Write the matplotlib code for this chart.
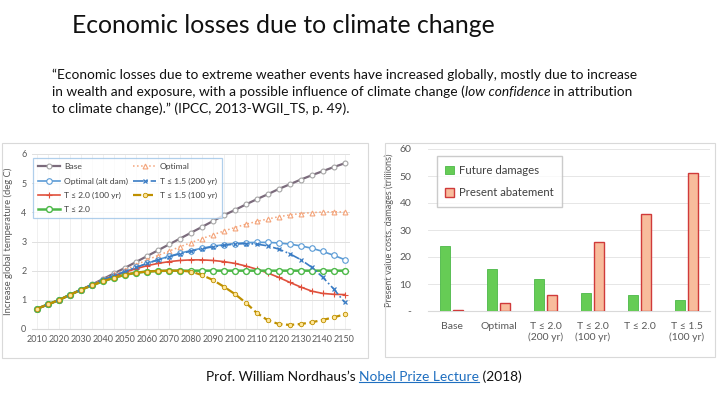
import numpy as np
import matplotlib.pyplot as plt
from matplotlib.patches import Rectangle
from matplotlib.lines import Line2D

plt.rcParams['font.family'] = ['Lato', 'DejaVu Sans']

# left chart: temperature paths, every 5 years
years = list(range(2010, 2151, 5))
base = [0.7, 0.85, 1.0, 1.18, 1.35, 1.53, 1.72, 1.91, 2.1, 2.3, 2.5, 2.7, 2.9, 3.1, 3.3,
        3.5, 3.7, 3.9, 4.08, 4.27, 4.45, 4.62, 4.8, 4.96, 5.12, 5.27, 5.41, 5.55, 5.68]
optimal = [0.7, 0.85, 1.0, 1.18, 1.35, 1.52, 1.7, 1.87, 2.03, 2.2, 2.37, 2.52, 2.67, 2.82, 2.96,
           3.1, 3.23, 3.36, 3.48, 3.59, 3.69, 3.77, 3.85, 3.91, 3.96, 3.99, 4.01, 4.02, 4.01]
opt_alt = [0.7, 0.85, 1.0, 1.18, 1.35, 1.52, 1.68, 1.83, 1.97, 2.11, 2.25, 2.38, 2.49, 2.6, 2.69,
           2.77, 2.84, 2.89, 2.93, 2.96, 2.97, 2.97, 2.95, 2.91, 2.85, 2.77, 2.66, 2.53, 2.38]
t15_200 = [0.7, 0.85, 1.0, 1.18, 1.35, 1.52, 1.68, 1.83, 1.97, 2.11, 2.25, 2.37, 2.48, 2.58, 2.67,
           2.75, 2.82, 2.87, 2.91, 2.93, 2.91, 2.85, 2.74, 2.58, 2.38, 2.12, 1.78, 1.38, 0.92]
t20_100 = [0.7, 0.85, 1.0, 1.18, 1.35, 1.52, 1.67, 1.81, 1.95, 2.07, 2.17, 2.25, 2.31, 2.35, 2.37,
           2.37, 2.35, 2.31, 2.25, 2.16, 2.05, 1.92, 1.77, 1.6, 1.44, 1.3, 1.22, 1.19, 1.18]
t20 = [0.7, 0.85, 1.0, 1.18, 1.35, 1.5, 1.64, 1.76, 1.86, 1.93, 1.97, 1.99, 2.0, 2.0, 2.0,
       2.0, 2.0, 2.0, 2.0, 2.0, 2.0, 2.0, 2.0, 2.0, 2.0, 2.0, 2.0, 2.0, 2.0]
t15_100 = [0.7, 0.85, 1.0, 1.18, 1.35, 1.5, 1.64, 1.76, 1.86, 1.93, 1.97, 1.99, 2.0, 2.0, 1.97,
           1.85, 1.68, 1.45, 1.2, 0.9, 0.55, 0.3, 0.17, 0.14, 0.17, 0.23, 0.31, 0.4, 0.5]

# right chart: present value costs
cats = ['Base', 'Optimal', 'T ≤ 2.0\n(200 yr)', 'T ≤ 2.0\n(100 yr)', 'T ≤ 2.0', 'T ≤ 1.5\n(100 yr)']
damages = [24, 15.5, 12, 6.5, 6, 4]
abatement = [0.3, 3, 6, 25.5, 36, 51]

fig = plt.figure(figsize=(7.2, 3.94), dpi=100)
W, H = 720.0, 394.0

def fx(px):
    return px / W

def fy(py):
    return 1 - py / H

# title and quote
fig.text(fx(72), fy(33), 'Economic losses due to climate change', fontsize=17.8,
         va='baseline', ha='left', color='#111111')

qsize = 9.95
fig.text(fx(52), fy(79), '\u201cEconomic losses due to extreme weather events have increased globally, mostly due to increase',
         fontsize=qsize, va='baseline', color='#111111')
t1 = fig.text(fx(52), fy(96), 'in wealth and exposure, with a possible influence of climate change (',
              fontsize=qsize, va='baseline', color='#111111')
fig.text(fx(52), fy(113), 'to climate change).\u201d (IPCC, 2013-WGII_TS, p. 49).',
         fontsize=qsize, va='baseline', color='#111111')

# caption
c1 = fig.text(fx(206), fy(377), 'Prof. William Nordhaus\u2019s ', fontsize=9.9, va='center', color='#111111')

# chart frames
for x0, y0, x1, y1 in [(2, 143, 368, 358), (385, 143, 715, 357)]:
    fig.patches.append(Rectangle((fx(x0), fy(y1)), fx(x1 - x0), (y1 - y0) / H,
                                 transform=fig.transFigure, fill=False,
                                 edgecolor='#d9d9d9', lw=0.8))

# ---- left chart
ax = fig.add_axes([fx(32), fy(329), fx(318), 175 / H])
tick_col = '#595959'
ax.plot(years, base, color='#7b6b7c', lw=1.6, marker='o', ms=3.5, mfc='white', mec='#a5a5a5', mew=0.8, label='Base', zorder=3)
ax.plot(years, optimal, color='#f4a47a', lw=1.1, ls=':', marker='^', ms=3.5, mfc='white', mec='#f4a47a', mew=0.8, label='Optimal', zorder=3)
ax.plot(years, opt_alt, color='#5b9bd5', lw=1.2, marker='o', ms=4, mfc='white', mec='#5b9bd5', mew=0.8, label='Optimal (alt dam)', zorder=3)
ax.plot(years, t15_200, color='#3a7cc4', lw=1.2, ls='-.', marker='x', ms=3.5, mec='#3a7cc4', mew=0.9, label='T \u2264 1.5 (200 yr)', zorder=4)
ax.plot(years, t20_100, color='#e0503c', lw=1.2, marker='+', ms=4, mec='#e0503c', mew=0.8, label='T \u2264 2.0 (100 yr)', zorder=3)
ax.plot(years, t15_100, color='#bf9000', lw=1.6, ls='--', marker='o', ms=3.2, mfc='#ffe699', mec='#bf9000', mew=0.6, label='T \u2264 1.5 (100 yr)', zorder=4)
ax.plot(years, t20, color='#4cb848', lw=1.8, marker='o', ms=4.2, mfc='white', mec='#4cb848', mew=1.0, label='T \u2264 2.0', zorder=3)

ax.set_xlim(2007.5, 2152.5)
ax.set_ylim(0, 6)
ax.set_xticks(range(2010, 2151, 10))
ax.set_xticks(range(2010, 2151, 5), minor=True)
ax.set_yticks(range(0, 7))
ax.grid(True, which='both', axis='x', color='#eeeeee', lw=0.6)
ax.grid(True, which='major', axis='y', color='#e0e0e0', lw=0.7)
ax.set_axisbelow(True)
for s in ax.spines.values():
    s.set_visible(False)
ax.spines['bottom'].set_visible(True)
ax.spines['bottom'].set_color('#d9d9d9')
ax.tick_params(which='both', length=0, labelsize=6.5, colors=tick_col, pad=4)
ax.set_ylabel('Increase global temperature (deg C)', fontsize=6.8, color=tick_col, labelpad=6)

h, l = ax.get_legend_handles_labels()
order = [0, 2, 4, 6, 1, 3, 5]
leg = ax.legend([h[i] for i in order], [l[i] for i in order], ncol=2, loc='upper left',
                bbox_to_anchor=(-0.01, 1.0), fontsize=6.1, frameon=True, fancybox=False,
                edgecolor='#9dc3e6', handlelength=2.6, handletextpad=0.5, columnspacing=0.6,
                labelspacing=0.85, borderpad=0.6)
leg.get_frame().set_linewidth(0.9)
for t in leg.get_texts():
    t.set_color('#404040')

# ---- right chart
ax2 = fig.add_axes([fx(428), fy(311), fx(282), 162 / H])
x = np.arange(len(cats))
bw = 0.22
ax2.bar(x - 0.14, damages, bw, color='#66cc55', edgecolor='#4cb848', lw=0.6, label='Future damages', zorder=3)
ax2.bar(x + 0.14, abatement, bw, color='#f8bc9c', edgecolor='#d03a3a', lw=1.0, label='Present abatement', zorder=3)
ax2.set_xlim(-0.5, len(cats) - 0.5)
ax2.set_ylim(0, 60)
ax2.set_yticks(range(0, 61, 10))
ax2.set_yticklabels(['-'] + [str(v) for v in range(10, 61, 10)])
ax2.set_xticks(x)
ax2.set_xticklabels(cats)
ax2.grid(True, axis='y', color='#e6e6e6', lw=0.7)
ax2.set_axisbelow(True)
for s in ax2.spines.values():
    s.set_visible(False)
ax2.spines['bottom'].set_visible(True)
ax2.spines['bottom'].set_color('#d9d9d9')
ax2.tick_params(length=0, labelsize=7.5, colors=tick_col, pad=8)
ax2.tick_params(axis='y', pad=12)
ax2.set_ylabel('Present value costs, damages (trillions)', fontsize=6.6, color=tick_col, labelpad=4)
leg2 = ax2.legend(loc='upper left', bbox_to_anchor=(0.01, 0.99), fontsize=8.2, frameon=True,
                  fancybox=False, edgecolor='#bfbfbf', handlelength=0.8, handleheight=0.8,
                  labelspacing=1.0, borderpad=0.75, handletextpad=0.4)
for t in leg2.get_texts():
    t.set_color('#404040')

# mixed-style text pieces placed after measuring
fig.canvas.draw()
r = fig.canvas.get_renderer()
inv = fig.transFigure.inverted()
bb = t1.get_window_extent(r)
x_end = inv.transform((bb.x1, bb.y0))[0]
t2 = fig.text(x_end, fy(96), 'low confidence', fontsize=qsize, va='baseline', style='italic', color='#111111')
bb2 = t2.get_window_extent(r)
x_end2 = inv.transform((bb2.x1, bb2.y0))[0]
fig.text(x_end2, fy(96), ' in attribution', fontsize=qsize, va='baseline', color='#111111')

bb = c1.get_window_extent(r)
cx = inv.transform((bb.x1, bb.y0))[0]
c2 = fig.text(cx, fy(377), 'Nobel Prize Lecture', fontsize=9.9, va='center', color='#1f6fc0')
bb2 = c2.get_window_extent(r)
cx2 = inv.transform((bb2.x1, bb2.y0))[0]
uy = inv.transform((bb2.x0, bb2.y0 + 1))[1]
fig.lines.append(Line2D([cx, cx2], [uy, uy], transform=fig.transFigure, color='#1f6fc0', lw=0.8))
fig.text(cx2, fy(377), ' (2018)', fontsize=9.9, va='center', color='#111111')

fig.savefig('out.png', dpi=100)
